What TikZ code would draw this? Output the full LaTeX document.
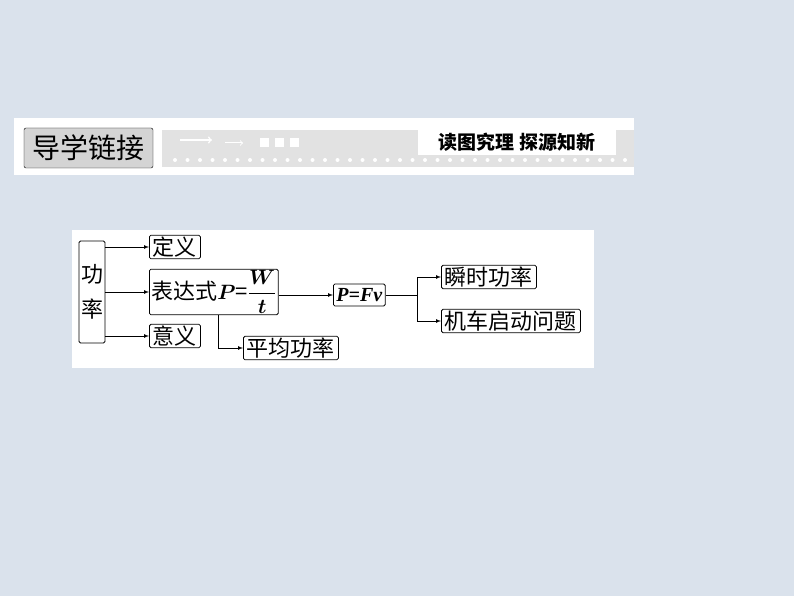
\documentclass[tikz,border=0pt]{standalone}
\usepackage{amsmath}
\usepackage{bm}
\usepackage{fontspec}
\newfontfamily\cjk{Noto Sans CJK SC}
\setmainfont{Liberation Serif}
\usetikzlibrary{positioning}
\definecolor{bgblue}{RGB}{218,226,236}
\definecolor{strip}{RGB}{226,226,226}
\definecolor{btn}{RGB}{212,212,212}

\tikzset{
    box/.style={draw, line width=0.8pt, rounded corners=1.5pt, inner xsep=3.5pt, inner ysep=1.5pt, font=\cjk\fontsize{22}{23}\selectfont},
    link/.style={-latex, line width=0.7pt}
}

\begin{document}
\begin{tikzpicture}[x=1pt,y=-1pt]
    \useasboundingbox (0,0) rectangle (794,596);
    \fill[bgblue] (0,0) rectangle (794,596);
    % header band
    \fill[white] (14,118) rectangle (634,175);
    \fill[strip] (162,130) rectangle (634,167);
    \node[draw, fill=btn, rounded corners=2pt, minimum width=129pt, minimum height=40pt, font=\cjk\fontsize{28}{30}\selectfont] (head) at (88.5,148) {导学链接};
    \fill[white] (418,130) rectangle (616,155);
    \node[font=\cjk\bfseries\fontsize{19}{20}\selectfont] (tag) at (517,142.5) {读图究理\ 探源知新};
    \foreach \i in {0,...,36}{
        \fill[white] (175+\i*12.5,160) circle (2pt);
    }
    \draw[white, line width=1.5pt, ->] (180,140) -- (212,140);
    \draw[white, line width=1pt, ->] (225,143) -- (243,143);
    \foreach \i in {0,1,2}{
        \fill[white] (260+\i*15,138) rectangle (269+\i*15,147);
    }

    % diagram panel
    \fill[white] (72,230) rectangle (594,368);
    \node[box, minimum width=26pt, minimum height=102pt, inner xsep=1pt, align=center] (power) at (92,292) {功\\[12pt]率};
    \node[box, anchor=west] (defn) at (149,247) {定义};
    \node[box, anchor=west, minimum height=41pt, inner xsep=2pt] (expr) at (149,292) {表达式$\bm{P}$=$\dfrac{\bm{W}}{\bm{t}}$};
    \node[box, anchor=west] (mean) at (149,336) {意义};
    \node[box, anchor=west, minimum height=22pt, inner xsep=3pt, font=\bfseries\itshape\fontsize{20}{21}\selectfont] (pfv) at (333,295) {P=Fv};
    \node[box, anchor=west] (avg) at (243,348) {平均功率};
    \node[box, anchor=west] (inst) at (441,277) {瞬时功率};
    \node[box, anchor=west] (start) at (441,321) {机车启动问题};

    \draw[link] (power.east |- defn) -- (defn);
    \draw[link] (power.east |- expr) -- (expr);
    \draw[link] (power.east |- mean) -- (mean);
    \draw[link] (expr.south -| 218,0) |- (avg);
    \draw[link] (expr.east |- pfv) -- (pfv);
    \coordinate (fork) at (417,295);
    \draw[line width=0.7pt] (pfv) -- (fork);
    \draw[link] (fork) |- (inst);
    \draw[link] (fork) |- (start);
\end{tikzpicture}
\end{document}
